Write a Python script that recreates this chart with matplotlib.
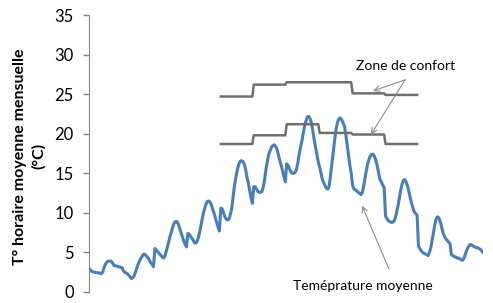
import numpy as np
import matplotlib.pyplot as plt

plt.rcParams['font.family'] = ['Lato', 'DejaVu Sans']

# hourly mean temperature (0h..23h) for each month
jan = [3.0, 2.8, 2.6, 2.55, 2.5, 2.45, 2.45, 2.4, 2.4, 2.3, 2.5, 3.1,
       3.5, 3.8, 3.9, 3.9, 3.9, 3.7, 3.4, 3.3, 3.3, 3.2, 3.2, 3.1]
feb = [3.1, 2.7, 2.5, 2.4, 2.3, 2.1, 1.9, 1.7, 1.8, 2.1, 2.6, 3.1,
       3.6, 4.0, 4.3, 4.6, 4.8, 4.7, 4.5, 4.3, 4.0, 3.7, 3.5, 3.2]
mar = [5.5, 5.3, 5.1, 4.9, 4.7, 4.5, 4.3, 4.4, 5.0, 5.6, 6.3, 7.0,
       7.6, 8.2, 8.7, 8.9, 8.9, 8.6, 8.1, 7.5, 7.0, 6.5, 6.0, 5.7]
apr = [7.4, 7.3, 7.0, 6.8, 6.5, 6.2, 6.2, 6.5, 7.1, 7.9, 8.8, 9.7,
       10.4, 11.0, 11.4, 11.5, 11.4, 11.1, 10.5, 10.0, 9.4, 8.8, 8.2, 7.7]
may = [10.6, 10.5, 10.0, 9.5, 9.2, 9.1, 9.2, 9.8, 10.6, 12.0, 13.5, 14.5,
       15.4, 16.1, 16.5, 16.6, 16.5, 16.2, 15.6, 14.6, 13.8, 12.9, 12.0, 11.2]
jun = [13.3, 13.3, 13.0, 12.7, 12.6, 12.6, 12.7, 13.3, 14.3, 15.6, 16.6, 17.4,
       17.9, 18.3, 18.5, 18.6, 18.4, 18.0, 17.3, 16.6, 16.0, 15.3, 14.6, 13.9]
jul = [16.2, 16.0, 15.6, 15.2, 15.0, 15.0, 15.1, 15.4, 16.2, 17.3, 18.2, 19.0,
       20.0, 20.9, 21.6, 22.1, 22.2, 21.9, 21.4, 20.4, 19.3, 18.3, 17.4, 16.4]
aug = [15.8, 15.0, 14.2, 13.8, 13.4, 13.1, 13.0, 13.4, 14.8, 16.3, 17.8, 19.3,
       20.6, 21.4, 21.9, 22.0, 21.8, 21.4, 21.0, 20.0, 18.7, 17.4, 16.0, 15.0]
sep = [13.5, 13.0, 12.9, 12.8, 12.6, 12.5, 12.3, 12.5, 13.3, 14.3, 15.3, 16.2,
       16.8, 17.2, 17.4, 17.4, 17.1, 16.6, 15.9, 15.0, 14.2, 13.9, 13.5, 13.2]
oct_ = [9.6, 9.3, 9.0, 8.9, 8.8, 8.8, 8.9, 9.3, 10.0, 10.8, 11.8, 12.8,
        13.6, 14.1, 14.2, 13.9, 13.4, 12.7, 11.9, 11.2, 10.6, 10.1, 9.9, 9.7]
nov = [5.8, 5.5, 5.2, 5.0, 4.9, 4.8, 4.7, 4.6, 5.0, 5.6, 6.6, 7.6,
       8.6, 9.3, 9.5, 9.3, 8.8, 8.1, 7.4, 7.0, 6.7, 6.5, 6.3, 6.1]
dec = [4.7, 4.6, 4.5, 4.4, 4.3, 4.3, 4.2, 4.1, 4.0, 4.2, 4.7, 5.2,
       5.6, 5.9, 6.0, 5.9, 5.8, 5.7, 5.6, 5.6, 5.5, 5.4, 5.2, 5.0]

# comfort zone bounds, May..Oct (one value per month)
comfort_months = [4, 5, 6, 7, 8, 9]
comfort_low = [18.7, 19.8, 21.2, 20.1, 19.9, 18.7]
comfort_high = [24.7, 26.2, 26.5, 26.5, 25.1, 24.9]

temp = np.concatenate([jan, feb, mar, apr, may, jun, jul, aug, sep, oct_, nov, dec])
hours = np.arange(len(temp))

low = np.full(len(temp), np.nan)
high = np.full(len(temp), np.nan)
for m, lo, hi in zip(comfort_months, comfort_low, comfort_high):
    low[m * 24:(m + 1) * 24] = lo
    high[m * 24:(m + 1) * 24] = hi

fig = plt.figure(figsize=(4.93, 3.03), dpi=100)
ax = fig.add_axes([89 / 493, 1 - 292 / 303, 394 / 493, 277 / 303])

ax.plot(hours, temp, color='#4A7EBB', lw=2.2)
ax.plot(hours, high, color='#6F6F6F', lw=1.8)
ax.plot(hours, low, color='#6F6F6F', lw=1.8)

ax.set_xlim(0, len(temp) - 1)
ax.set_ylim(0, 35)
ax.set_yticks(range(0, 36, 5))
ax.set_xticks([])
for s in ['top', 'right', 'bottom']:
    ax.spines[s].set_visible(False)
ax.spines['left'].set_color('#868686')
ax.tick_params(axis='y', length=4, width=1, color='#868686', pad=7, labelsize=12)

ax.set_ylabel('T° horaire moyenne mensuelle\n(°C)', fontsize=11.5, fontweight='bold',
              linespacing=1.35)
ax.yaxis.set_label_coords(-0.11, 0.49)

arrow = dict(arrowstyle='->', color='#8C8C8C', lw=0.8, shrinkA=0, shrinkB=0)
ax.annotate('', xy=(206.9, 25.4), xytext=(230.2, 26.8), arrowprops=arrow)
ax.annotate('', xy=(205.4, 19.9), xytext=(230.2, 26.8), arrowprops=arrow)
ax.text(230.9, 28.6, 'Zone de confort', ha='center', va='center', fontsize=10)

ax.annotate('', xy=(198.9, 10.9), xytext=(218.5, 2.9), arrowprops=arrow,
            annotation_clip=False)
ax.text(199.6, 0.8, 'Teméprature moyenne', ha='center', va='center', fontsize=10,
        clip_on=False)

fig.savefig('out.png', dpi=100)
